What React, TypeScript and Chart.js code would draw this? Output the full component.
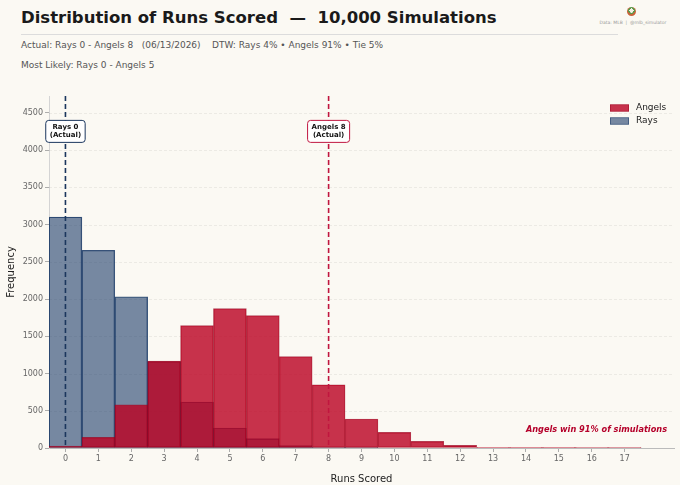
import React, { useEffect, useRef } from "react";
import { Chart, registerables } from "chart.js";

Chart.register(...registerables);

// ---- data ----
const runs = [0, 1, 2, 3, 4, 5, 6, 7, 8, 9, 10, 11, 12, 13, 14, 15, 16, 17];
const angelsFreq = [27, 142, 580, 1166, 1644, 1872, 1778, 1228, 849, 389, 209, 88, 35, 8, 4, 2, 1, 1];
const raysFreq = [3101, 2655, 2029, 1160, 617, 268, 125, 31, 8, 2, 0, 0, 0, 0, 0, 0, 0, 0];
const xTickValues = [0, 1, 2, 3, 4, 5, 6, 7, 8, 9, 10, 11, 12, 13, 14, 15, 16, 17];
const yTickValues = [0, 500, 1000, 1500, 2000, 2500, 3000, 3500, 4000, 4500];
const yMax = 4725;
const xMin = -0.5;
const xMax = 18.5;
const raysActual = 0;
const angelsActual = 8;
const annotationY = 4250;

const FONT = "'DejaVu Sans', sans-serif";
const BG = "#fbf9f3";
const ANGELS_FILL = "rgba(186,0,33,0.8)";
const ANGELS_EDGE = "rgba(150,0,28,0.7)";
const RAYS_FILL = "rgba(9,44,92,0.55)";
const RAYS_EDGE = "rgba(9,44,92,0.75)";

const gridPlugin = {
  id: "customGrid",
  beforeDatasetsDraw(chart: any) {
    const { ctx, chartArea } = chart;
    const y = chart.scales.y;
    ctx.save();
    ctx.strokeStyle = "rgba(0,0,0,0.08)";
    ctx.lineWidth = 0.8;
    ctx.setLineDash([3, 2]);
    for (const v of yTickValues) {
      if (v === 0) continue;
      const py = Math.round(y.getPixelForValue(v)) + 0.5;
      ctx.beginPath();
      ctx.moveTo(chartArea.left, py);
      ctx.lineTo(chartArea.right, py);
      ctx.stroke();
    }
    ctx.restore();
  },
};

function roundRect(ctx: CanvasRenderingContext2D, x: number, y: number, w: number, h: number, r: number) {
  ctx.beginPath();
  ctx.moveTo(x + r, y);
  ctx.lineTo(x + w - r, y);
  ctx.quadraticCurveTo(x + w, y, x + w, y + r);
  ctx.lineTo(x + w, y + h - r);
  ctx.quadraticCurveTo(x + w, y + h, x + w - r, y + h);
  ctx.lineTo(x + r, y + h);
  ctx.quadraticCurveTo(x, y + h, x, y + h - r);
  ctx.lineTo(x, y + r);
  ctx.quadraticCurveTo(x, y, x + r, y);
  ctx.closePath();
}

const overlayPlugin = {
  id: "overlay",
  afterDatasetsDraw(chart: any) {
    const { ctx, chartArea } = chart;
    const xs = chart.scales.x;
    const ys = chart.scales.y;
    const lines = [
      { v: raysActual, color: "#1b365d", label: ["Rays " + raysActual, "(Actual)"] },
      { v: angelsActual, color: "#c0163f", label: ["Angels " + angelsActual, "(Actual)"] },
    ];
    for (const l of lines) {
      const px = xs.getPixelForValue(l.v);
      ctx.save();
      ctx.strokeStyle = l.color;
      ctx.lineWidth = 1.6;
      ctx.setLineDash([5, 3]);
      ctx.beginPath();
      ctx.moveTo(px, chartArea.top);
      ctx.lineTo(px, chartArea.bottom);
      ctx.stroke();
      ctx.restore();

      // annotation box
      ctx.save();
      ctx.font = `bold 7px ${FONT}`;
      const w = Math.max(...l.label.map((t) => ctx.measureText(t).width)) + 8;
      const h = 22;
      const cy = ys.getPixelForValue(annotationY);
      const bx = px - w / 2;
      const by = cy - h / 2;
      ctx.fillStyle = "#ffffff";
      ctx.strokeStyle = l.color;
      ctx.lineWidth = 1;
      roundRect(ctx, bx, by, w, h, 3);
      ctx.fill();
      ctx.stroke();
      ctx.fillStyle = "#111";
      ctx.textAlign = "center";
      ctx.textBaseline = "middle";
      ctx.fillText(l.label[0], px, cy - 4);
      ctx.fillText(l.label[1], px, cy + 4);
      ctx.restore();
    }

    // win text
    ctx.save();
    ctx.font = `italic bold 8.2px ${FONT}`;
    ctx.fillStyle = "#b5002a";
    ctx.textAlign = "right";
    ctx.textBaseline = "middle";
    ctx.fillText("Angels win 91% of simulations", chartArea.right - 7, ys.getPixelForValue(240));
    ctx.restore();

    // legend
    ctx.save();
    const items = [
      { label: "Angels", fill: ANGELS_FILL, edge: ANGELS_EDGE },
      { label: "Rays", fill: RAYS_FILL, edge: RAYS_EDGE },
    ];
    ctx.font = `9px ${FONT}`;
    ctx.textBaseline = "middle";
    items.forEach((it, i) => {
      const cy = chartArea.top + 12 + i * 13;
      const bx = 610;
      ctx.fillStyle = BG;
      ctx.fillRect(bx, cy - 3.5, 19, 7);
      ctx.fillStyle = it.fill;
      ctx.fillRect(bx, cy - 3.5, 19, 7);
      ctx.strokeStyle = it.edge;
      ctx.lineWidth = 0.6;
      ctx.strokeRect(bx + 0.3, cy - 3.2, 18.4, 6.4);
      ctx.fillStyle = "#222";
      ctx.textAlign = "left";
      ctx.fillText(it.label, bx + 26, cy);
    });
    ctx.restore();
  },
};

function HistChart() {
  const ref = useRef<HTMLCanvasElement | null>(null);
  useEffect(() => {
    if (!ref.current) return;
    const chart = new Chart(ref.current, {
      type: "bar",
      data: {
        datasets: [
          {
            label: "Angels",
            data: runs.map((r, i) => ({ x: r, y: angelsFreq[i] })),
            backgroundColor: ANGELS_FILL,
            borderColor: ANGELS_EDGE,
            borderWidth: 0.7,
            borderSkipped: false,
            grouped: false,
            barPercentage: 1,
            categoryPercentage: 1,
          } as any,
          {
            label: "Rays",
            data: runs.map((r, i) => ({ x: r, y: raysFreq[i] })),
            backgroundColor: RAYS_FILL,
            borderColor: RAYS_EDGE,
            borderWidth: 0.7,
            borderSkipped: false,
            grouped: false,
            barPercentage: 1,
            categoryPercentage: 1,
          } as any,
        ],
      },
      options: {
        animation: false,
        responsive: false,
        maintainAspectRatio: false,
        layout: { padding: { left: 0, top: 96, right: 6, bottom: 0 } },
        plugins: { legend: { display: false }, tooltip: { enabled: false }, title: { display: false } },
        scales: {
          x: {
            type: "linear",
            min: xMin,
            max: xMax,
            offset: false,
            afterFit: (s: any) => {
              s.height = 37;
            },
            afterBuildTicks: (s: any) => {
              s.ticks = xTickValues.map((v) => ({ value: v }));
            },
            ticks: {
              font: { family: FONT, size: 8 },
              color: "#666",
              padding: 2,
              autoSkip: false,
              maxRotation: 0,
              callback: (v: any) => String(v),
            },
            grid: {
              offset: false,
              drawOnChartArea: false,
              drawTicks: true,
              tickLength: 4,
              tickColor: "#999",
              tickWidth: 0.8,
            },
            border: { display: true, color: "#bbb", width: 1 },
            title: {
              display: true,
              text: "Runs Scored",
              font: { family: FONT, size: 10 },
              color: "#222",
              padding: { top: 6, bottom: 0 },
            },
          } as any,
          y: {
            type: "linear",
            min: 0,
            max: yMax,
            afterFit: (s: any) => {
              s.width = 49;
            },
            afterBuildTicks: (s: any) => {
              s.ticks = yTickValues.map((v) => ({ value: v }));
            },
            ticks: {
              font: { family: FONT, size: 8 },
              color: "#666",
              padding: 2,
              autoSkip: false,
              callback: (v: any) => String(v),
            },
            grid: {
              drawOnChartArea: false,
              drawTicks: true,
              tickLength: 4,
              tickColor: "#999",
              tickWidth: 0.8,
            },
            border: { display: true, color: "#d4d4d4", width: 1 },
            title: {
              display: true,
              text: "Frequency",
              font: { family: FONT, size: 10 },
              color: "#222",
              padding: { top: 5, bottom: 0 },
            },
          } as any,
        },
      },
      plugins: [gridPlugin, overlayPlugin],
    });
    return () => chart.destroy();
  }, []);
  return (
    <canvas
      ref={ref}
      width={680}
      height={485}
      style={{ position: "absolute", left: 0, top: 0, width: 680, height: 485 }}
    />
  );
}

export default function App() {
  return (
    <div
      style={{
        position: "absolute",
        left: 0,
        top: 0,
        width: 680,
        height: 485,
        background: BG,
        overflow: "hidden",
        fontFamily: FONT,
      }}
    >
      <div
        style={{
          position: "absolute",
          left: 21,
          top: 8,
          fontSize: 16.5,
          fontWeight: "bold",
          color: "#1a1a1a",
          whiteSpace: "pre",
          lineHeight: "20px",
        }}
      >
        {"Distribution of Runs Scored  —  10,000 Simulations"}
      </div>
      <div style={{ position: "absolute", left: 21, top: 34, width: 597, height: 1, background: "#dcdcdc" }} />
      <div
        style={{
          position: "absolute",
          left: 21,
          top: 39,
          fontSize: 9,
          color: "#555",
          whiteSpace: "pre",
          lineHeight: "13px",
        }}
      >
        {"Actual: Rays 0 - Angels 8   (06/13/2026)    DTW: Rays 4% • Angels 91% • Tie 5%"}
      </div>
      <div
        style={{
          position: "absolute",
          left: 21,
          top: 58.5,
          fontSize: 9,
          color: "#555",
          whiteSpace: "pre",
          lineHeight: "13px",
        }}
      >
        {"Most Likely: Rays 0 - Angels 5"}
      </div>
      <div
        style={{
          position: "absolute",
          left: 627,
          top: 7,
          width: 9,
          height: 9,
          borderRadius: "50%",
          background: "radial-gradient(circle at 50% 40%, #f3efe4 0 30%, #5a9a4a 31% 48%, #c8643a 50% 100%)",
        }}
      />
      <div
        style={{
          position: "absolute",
          left: 590,
          width: 86,
          top: 20,
          fontSize: 4.5,
          color: "#999",
          textAlign: "center",
          whiteSpace: "pre",
          lineHeight: "6px",
        }}
      >
        {"Data: MLB  |  @mlb_simulator"}
      </div>
      <HistChart />
    </div>
  );
}
